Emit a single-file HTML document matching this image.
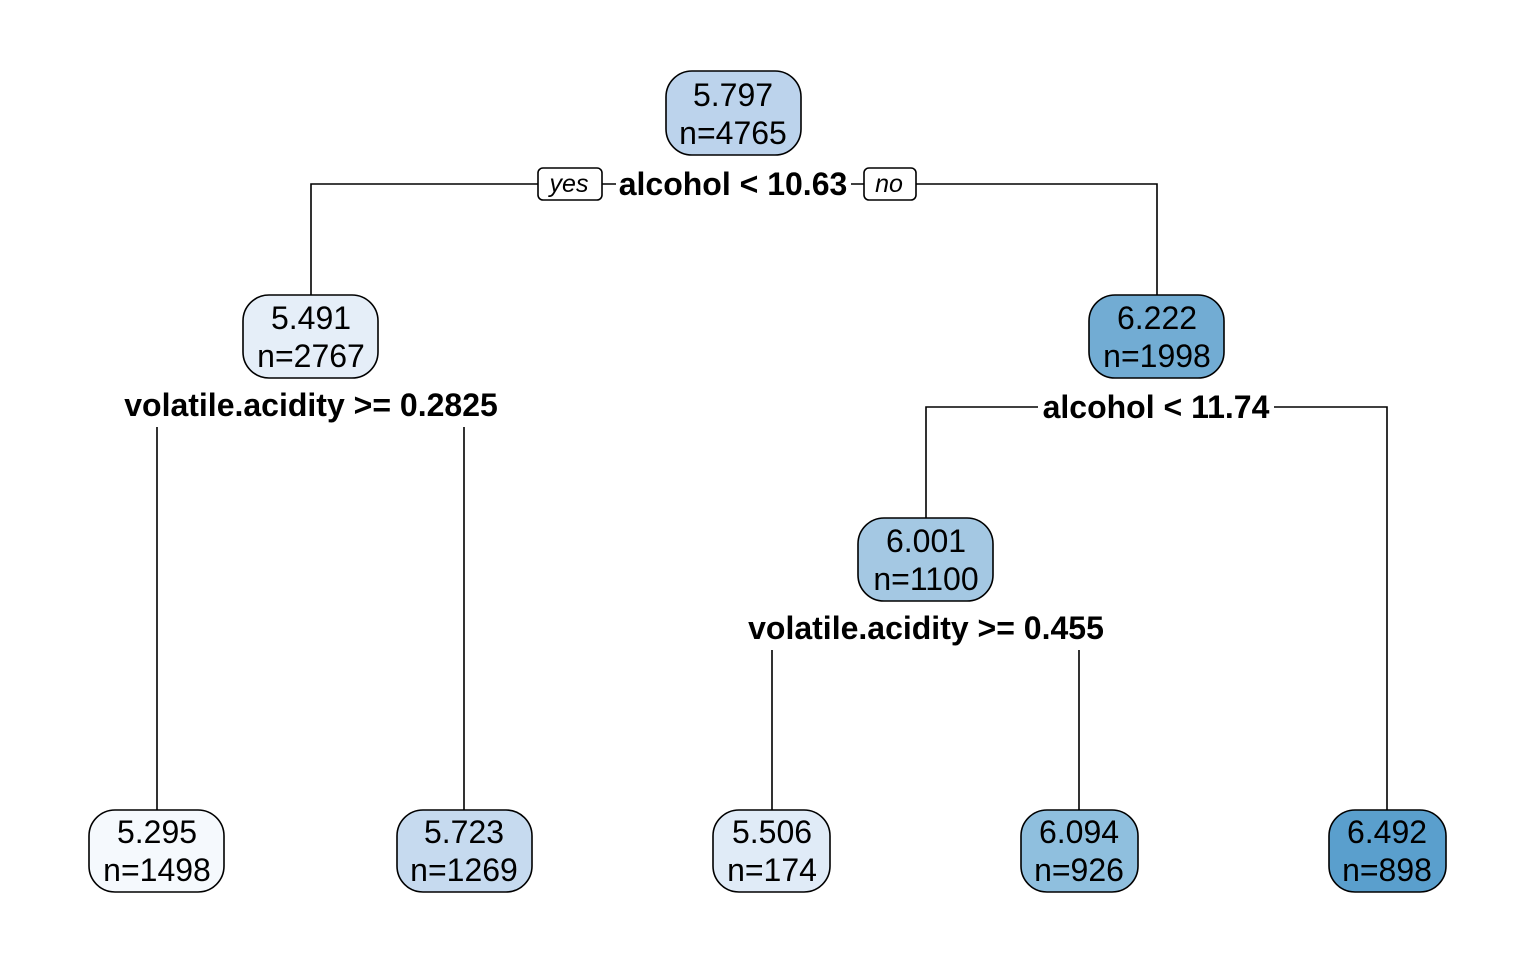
<!DOCTYPE html>
<html><head><style>html,body{margin:0;padding:0;background:#fff}</style></head>
<body>
<svg width="1536" height="960" xmlns="http://www.w3.org/2000/svg" font-family="Liberation Sans, Arial, sans-serif">
<rect width="1536" height="960" fill="#fff"/>
<g stroke="#000" stroke-width="1.6" fill="none">
<path d="M311 295 V184 H1157 V295"/>
<path d="M157 810 V427 M464 810 V427"/>
<path d="M926 518 V407 H1387 V810"/>
<path d="M772 810 V650 M1079 810 V650"/>
</g>
<g stroke="#000" stroke-width="1.6">
<rect x="666" y="71" width="135" height="84" rx="26" fill="#bcd3ec"/>
<rect x="243" y="295" width="135" height="83" rx="26" fill="#e5eef8"/>
<rect x="1089" y="295" width="135" height="83" rx="26" fill="#72acd3"/>
<rect x="858" y="518" width="135" height="83" rx="26" fill="#a4c8e3"/>
<rect x="89" y="810" width="135" height="82" rx="26" fill="#f5f9fd"/>
<rect x="397" y="810" width="135" height="82" rx="26" fill="#c6daef"/>
<rect x="713" y="810" width="117" height="82" rx="26" fill="#e0ebf7"/>
<rect x="1021" y="810" width="117" height="82" rx="26" fill="#8fbfde"/>
<rect x="1329" y="810" width="117" height="82" rx="26" fill="#5a9fcd"/>
<rect x="538" y="168" width="64" height="32" rx="5" fill="#fff"/>
<rect x="864" y="168" width="52" height="32" rx="5" fill="#fff"/>
</g>
<rect x="616" y="168" width="235" height="32" fill="#fff"/>
<rect x="1038" y="392" width="236" height="30" fill="#fff"/>
<g font-size="32" text-anchor="middle" fill="#000">
<text x="733" y="106">5.797</text><text x="733" y="144">n=4765</text>
<text x="311" y="329">5.491</text><text x="311" y="367">n=2767</text>
<text x="1157" y="329">6.222</text><text x="1157" y="367">n=1998</text>
<text x="926" y="552">6.001</text><text x="926" y="590">n=1100</text>
<text x="157" y="843">5.295</text><text x="157" y="881">n=1498</text>
<text x="464" y="843">5.723</text><text x="464" y="881">n=1269</text>
<text x="772" y="843">5.506</text><text x="772" y="881">n=174</text>
<text x="1079" y="843">6.094</text><text x="1079" y="881">n=926</text>
<text x="1387" y="843">6.492</text><text x="1387" y="881">n=898</text>
</g>
<g font-size="32" font-weight="bold" text-anchor="middle" fill="#000">
<text x="733" y="195">alcohol &lt; 10.63</text>
<text x="311" y="416">volatile.acidity &gt;= 0.2825</text>
<text x="1156" y="418">alcohol &lt; 11.74</text>
<text x="926" y="639">volatile.acidity &gt;= 0.455</text>
</g>
<g font-size="25" font-style="italic" text-anchor="middle" fill="#000">
<text x="569" y="192">yes</text>
<text x="889" y="192">no</text>
</g>
</svg>
</body></html>
